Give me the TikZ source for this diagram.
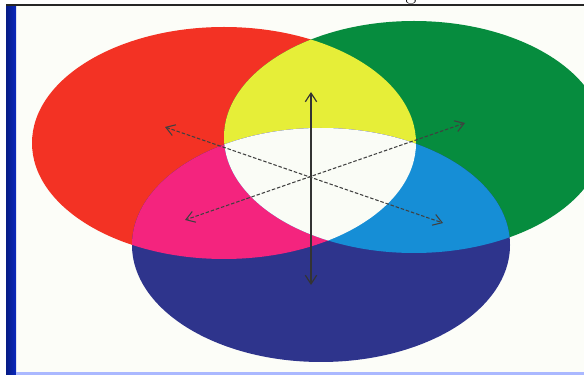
\documentclass[tikz,border=0pt]{standalone}
\usepackage{xcolor}
\usepackage{tikz}
\usetikzlibrary{arrows.meta}
\definecolor{redL}{RGB}{243,50,36}
\definecolor{greenL}{RGB}{6,140,62}
\definecolor{blueL}{RGB}{46,52,140}
\definecolor{yellowL}{RGB}{230,238,56}
\definecolor{magentaL}{RGB}{244,36,126}
\definecolor{cyanL}{RGB}{22,142,214}
\definecolor{whiteL}{RGB}{250,252,246}
\definecolor{paperL}{RGB}{252,253,248}
\definecolor{barL}{RGB}{10,40,190}
\definecolor{edgeL}{RGB}{170,184,255}

\begin{document}
\begin{tikzpicture}[x=0.03cm, y=-0.03cm,
  axisarrow/.style={draw=black!80, line width=1pt,
    {Straight Barb[length=2.6mm,width=3.4mm]}-{Straight Barb[length=2.6mm,width=3.4mm]}},
  diagarrow/.style={axisarrow, draw=black!75, dash pattern=on 3pt off 1.6pt, line width=0.9pt}]
  % frame: 584 x 375 px, y grows downwards
  \useasboundingbox (0,0) rectangle (584,375);
  \fill[white] (0,0) rectangle (584,375);
  \fill[paperL] (6,5) rectangle (584,375);
  \shade[left color=barL!70!black, right color=barL] (6,5) rectangle (16,375);
  \fill[black!85] (6,4) rectangle (584,6);
  \fill[edgeL] (16,372) rectangle (584,375);
  \node[anchor=base, font=\fontsize{20}{24}\selectfont, inner sep=0pt] (title) at (411,0) {g};
  % the three lights
  \def\redE{(224,143) ellipse [x radius=192, y radius=116]}
  \def\greenE{(414,137) ellipse [x radius=190, y radius=116]}
  \def\blueE{(321,245) ellipse [x radius=189, y radius=117]}
  \fill[redL] \redE;
  \fill[greenL] \greenE;
  \fill[blueL] \blueE;
  % overlaps
  \begin{scope}
    \clip \redE;
    \fill[yellowL] \greenE;
    \fill[magentaL] \blueE;
  \end{scope}
  \begin{scope}
    \clip \greenE;
    \fill[cyanL] \blueE;
    \clip \blueE;
    \fill[whiteL] \redE;
  \end{scope}
  % axes through the white centre
  \coordinate (ctr) at (310,177);
  \coordinate (up) at (311,92);
  \coordinate (down) at (311,285);
  \coordinate (ul) at (165,127);
  \coordinate (lr) at (443,223);
  \coordinate (ur) at (465,123);
  \coordinate (ll) at (185,220);
  \draw[axisarrow] (up) -- (down);
  \draw[diagarrow] (ul) -- (lr);
  \draw[diagarrow] (ur) -- (ll);
\end{tikzpicture}
\end{document}
